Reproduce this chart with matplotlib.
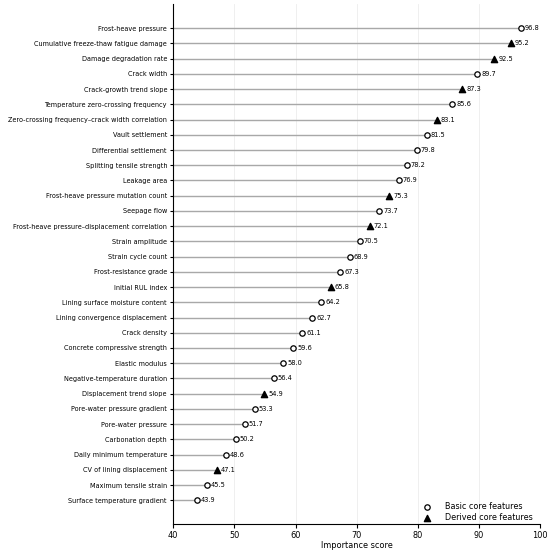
import matplotlib
matplotlib.use("Agg")
import matplotlib.pyplot as plt
import numpy as np

features = [
    "Frost-heave pressure",
    "Cumulative freeze-thaw fatigue damage",
    "Damage degradation rate",
    "Crack width",
    "Crack-growth trend slope",
    "Temperature zero-crossing frequency",
    "Zero-crossing frequency\u2013crack width correlation",
    "Vault settlement",
    "Differential settlement",
    "Splitting tensile strength",
    "Leakage area",
    "Frost-heave pressure mutation count",
    "Seepage flow",
    "Frost-heave pressure\u2013displacement correlation",
    "Strain amplitude",
    "Strain cycle count",
    "Frost-resistance grade",
    "Initial RUL index",
    "Lining surface moisture content",
    "Lining convergence displacement",
    "Crack density",
    "Concrete compressive strength",
    "Elastic modulus",
    "Negative-temperature duration",
    "Displacement trend slope",
    "Pore-water pressure gradient",
    "Pore-water pressure",
    "Carbonation depth",
    "Daily minimum temperature",
    "CV of lining displacement",
    "Maximum tensile strain",
    "Surface temperature gradient",
]
scores = [96.8, 95.2, 92.5, 89.7, 87.3, 85.6, 83.1, 81.5, 79.8, 78.2, 76.9,
          75.3, 73.7, 72.1, 70.5, 68.9, 67.3, 65.8, 64.2, 62.7, 61.1, 59.6,
          58.0, 56.4, 54.9, 53.3, 51.7, 50.2, 48.6, 47.1, 45.5, 43.9]
# "B" basic, "D" derived
kinds = ["B", "D", "D", "B", "D", "B", "D", "B", "B", "B", "B",
         "D", "B", "D", "B", "B", "B", "D", "B", "B", "B", "B",
         "B", "B", "D", "B", "B", "B", "B", "D", "B", "B"]

fig = plt.figure(figsize=(5.5, 5.52), dpi=100)
ax = fig.add_axes([0.315, 0.051, 0.667, 0.942])

y = np.arange(len(features))
x0 = 40

ax.hlines(y, x0, scores, color="#a8a8a8", linewidth=1.0, zorder=1)

basic = [i for i, k in enumerate(kinds) if k == "B"]
derived = [i for i, k in enumerate(kinds) if k == "D"]
ax.scatter([scores[i] for i in basic], [y[i] for i in basic], marker="o",
           s=15, facecolor="white", edgecolor="black", linewidth=0.9,
           zorder=3, label="Basic core features")
ax.scatter([scores[i] for i in derived], [y[i] for i in derived], marker="^",
           s=20, color="black", zorder=3, label="Derived core features")

for yi, s in zip(y, scores):
    ax.text(s + 0.65, yi, f"{s:.1f}", va="center", ha="left", fontsize=4.8)

ax.set_yticks(y)
ax.set_yticklabels(features, fontsize=4.7)
ax.set_ylim(len(features) - 1 + 1.55, -1.6)
ax.set_xlim(40, 100)
ax.set_xticks(np.arange(40, 101, 10))
ax.tick_params(axis="x", labelsize=5.9, length=3, width=0.8, pad=2)
ax.tick_params(axis="y", length=2.5, width=0.8, pad=2)
ax.set_xlabel("Importance score", fontsize=5.9, labelpad=1)

ax.grid(axis="x", color="#ececec", linewidth=0.6)
ax.set_axisbelow(True)
ax.spines["top"].set_visible(False)
ax.spines["right"].set_visible(False)

ax.legend(loc="lower right", frameon=False, fontsize=5.8, labelspacing=0.25,
          handletextpad=1.3, bbox_to_anchor=(1.0, -0.01))

fig.savefig("out.png", dpi=100)
